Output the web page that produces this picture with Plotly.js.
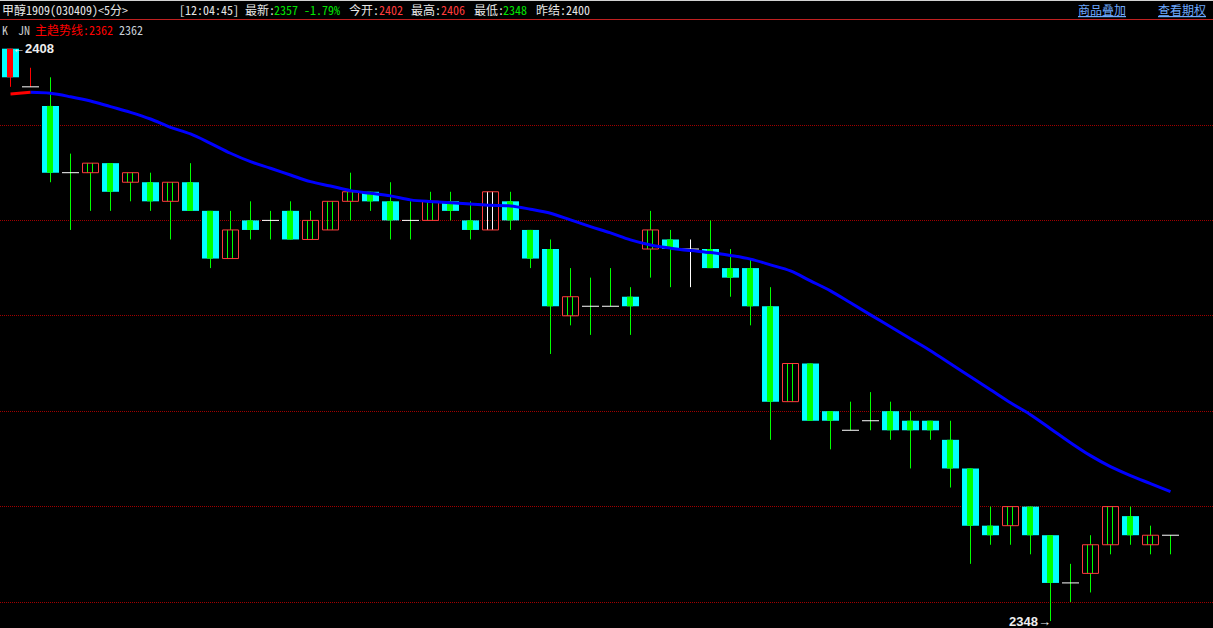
<!DOCTYPE html>
<html><head><meta charset="utf-8">
<script src="https://cdn.plot.ly/plotly-3.0.1.min.js"></script>
<style>html,body{margin:0;padding:0;background:#000;overflow:hidden}#chart{width:1213px;height:628px}</style>
</head><body><div id="chart"></div>
<script>
// ---- data (5-minute bars, 甲醇1909) ----
const openP  = [2408,2404,2402,2395,2395,2396,2394,2394,2392,2394,2391,2386,2390,2390,2391,2388,2389,2392,2393,2392,2390,2390,2392,2390,2389,2392,2389,2387,2380,2381,2381,2382,2387,2388,2387,2387,2385,2385,2381,2371,2375,2370,2368,2369,2370,2369,2369,2367,2364,2358,2358,2360,2357,2352,2353,2356,2359,2356,2357];
const highP  = [2408,2406,2405,2397,2396,2396,2395,2395,2394,2396,2391,2391,2392,2391,2392,2391,2392,2395,2393,2394,2392,2393,2393,2392,2393,2393,2389,2388,2385,2384,2385,2383,2391,2389,2388,2390,2387,2386,2383,2375,2375,2370,2371,2372,2371,2370,2369,2369,2364,2360,2360,2360,2357,2354,2357,2360,2360,2358,2357];
const lowP   = [2404,2404,2394,2389,2391,2391,2392,2391,2388,2391,2385,2386,2388,2388,2388,2388,2389,2390,2391,2388,2388,2390,2390,2388,2389,2389,2385,2376,2379,2378,2381,2378,2384,2383,2383,2385,2382,2379,2367,2371,2369,2366,2368,2368,2367,2364,2367,2362,2354,2356,2356,2355,2348,2350,2351,2355,2356,2355,2355];
const closeP = [2405,2404,2395,2395,2396,2393,2395,2392,2394,2391,2386,2389,2389,2390,2388,2390,2392,2393,2392,2390,2390,2392,2391,2389,2393,2390,2386,2381,2382,2381,2381,2381,2389,2387,2387,2385,2384,2381,2371,2375,2369,2369,2368,2369,2368,2368,2368,2364,2358,2357,2360,2357,2352,2352,2356,2360,2357,2357,2357];
const trendLine = [2403.25,2403.42,2403.32,2402.96,2402.51,2401.92,2401.33,2400.63,2399.76,2399.06,2398.08,2397.04,2396.16,2395.47,2394.76,2394.06,2393.61,2393.12,2392.85,2392.57,2392.15,2391.97,2391.86,2391.73,2391.59,2391.52,2391.17,2390.75,2390.05,2389.35,2388.69,2387.96,2387.43,2387.09,2386.84,2386.63,2386.32,2385.94,2385.34,2384.71,2383.66,2382.62,2381.36,2380.10,2378.85,2377.59,2376.34,2374.97,2373.61,2372.25,2370.89,2369.63,2368.17,2366.70,2365.34,2364.19,2363.25,2362.41,2361.57];
const gridLevels = [2350,2360,2370,2380,2390,2400];

const contractName = '甲醇1909(030409)<5分>';
const quoteTime = '12:04:45';
const lastPrice = 2357, changePct = '-1.79%', openToday = 2402, highToday = 2406, lowToday = 2348, prevSettle = 2400;
const trendName = '主趋势线', trendValue = 2362;

// ---- drawing ----
const W = 1213, H = 628;
const n = openP.length;
const GREEN = '#00ff00', CYAN = '#00ffff', BOXRED = '#ff3c3c', WHITE = '#ffffff';
const accent = {0:'#ff0000', 1:'#ff0000', 24:'#ffffff', 34:'#ffffff'};
const colorOf = i => accent[i] || GREEN;

const wickGroups = {};
function seg(group, c, xs, ys){ const g = (group[c] = group[c] || {x:[], y:[]}); g.x.push(...xs, null); g.y.push(...ys, null); }
const innerGroups = {};
const bearX = [], bearBase = [], bearLen = [], bearStripeCol = [];
const boxX = [], boxY = [];
const dojiX = [], dojiY = [];
for (let i = 0; i < n; i++) {
  const o = openP[i], c = closeP[i], h = highP[i], l = lowP[i];
  const top = Math.max(o, c), bot = Math.min(o, c);
  const col = colorOf(i);
  if (c < o) {
    seg(wickGroups, col, [i, i], [h, l]);
    bearX.push(i); bearBase.push(c); bearLen.push(o - c); bearStripeCol.push(col);
  } else if (c > o) {
    if (h > top) seg(wickGroups, col, [i, i], [h, top]);
    if (l < bot) seg(wickGroups, col, [i, i], [bot, l]);
    seg(innerGroups, col, [i - 0.15, i - 0.15], [bot, top]);
    seg(innerGroups, col, [i + 0.10, i + 0.10], [bot, top]);
    boxX.push(i - 0.4, i + 0.4, i + 0.4, i - 0.4, i - 0.4, null);
    boxY.push(bot, bot, top, top, bot, null);
  } else {
    if (h > l) seg(wickGroups, col, [i, i], [h, l]);
    dojiX.push(i - 0.425, i + 0.425, null); dojiY.push(o, o, null);
  }
}

const traces = [];
for (const c in wickGroups) traces.push({type:'scatter', mode:'lines', x:wickGroups[c].x, y:wickGroups[c].y, line:{color:c, width:1}, hoverinfo:'skip'});
traces.push({type:'bar', x:bearX, base:bearBase, y:bearLen, width:0.85, offset:-0.425, marker:{color:CYAN, line:{width:0}}, hoverinfo:'skip'});
traces.push({type:'bar', x:bearX, base:bearBase, y:bearLen, width:0.3, offset:-0.175, marker:{color:bearStripeCol, line:{width:0}}, hoverinfo:'skip'});
for (const c in innerGroups) traces.push({type:'scatter', mode:'lines', x:innerGroups[c].x, y:innerGroups[c].y, line:{color:c, width:1}, hoverinfo:'skip'});
traces.push({type:'scatter', mode:'lines', x:boxX, y:boxY, line:{color:BOXRED, width:1}, hoverinfo:'skip'});
traces.push({type:'scatter', mode:'lines', x:dojiX, y:dojiY, line:{color:WHITE, width:1}, hoverinfo:'skip'});
const idx = trendLine.map((_, i) => i);
traces.push({type:'scatter', mode:'lines', x:idx.slice(1), y:trendLine.slice(1), line:{color:'#0000ff', width:3, shape:'spline'}, hoverinfo:'skip'});
traces.push({type:'scatter', mode:'lines', x:idx.slice(0,2), y:trendLine.slice(0,2), line:{color:'#ff0000', width:3}, hoverinfo:'skip'});

// price scale: 9.54 px per unit, 2400 at pixel row 125
const pxPerUnit = 9.54;
const yTop = 2400 + 125 / pxPerUnit, yBot = 2400 - (H - 125) / pxPerUnit;
const x0 = -10.5 / 20;

const FONT = '"Noto Sans Mono CJK SC", "Noto Sans CJK SC", sans-serif';
const TW = '#e6e6e6', TG = '#00e600', TR = '#ff3c3c', TB = '#6eaaff';
function hdr(text, px, py, color, extra) {
  return Object.assign({xref:'paper', yref:'paper', x:px / W, y:1 - py / H, xanchor:'left', yanchor:'middle',
    text:text, showarrow:false, borderpad:0, borderwidth:0, font:{family:FONT, size:12, color:color}}, extra || {});
}
const annotations = [
  hdr(contractName, 2, 10, TW),
  hdr('[' + quoteTime + '] 最新:', 179, 10, TW),
  hdr(lastPrice + ' ' + changePct, 274, 10, TG),
  hdr('今开:', 349, 10, TW), hdr(String(openToday), 379, 10, TR),
  hdr('最高:', 411, 10, TW), hdr(String(highToday), 441, 10, TR),
  hdr('最低:', 474, 10, TW), hdr(String(lowToday), 503, 10, TG),
  hdr('昨结:' + prevSettle, 536, 10, TW),
  hdr('<u>商品叠加</u>', 1078, 10, TB),
  hdr('<u>查看期权</u>', 1158, 10, TB),
  hdr('K', 2, 30, '#c8c8c8'),
  hdr('JN', 18, 30, '#c8c8c8'),
  hdr(trendName + ':' + trendValue, 35, 30, '#ff0000'),
  hdr(String(trendValue), 119, 30, '#c8d0d8')
];
// extreme labels
let hi = 0, lo = 0;
for (let i = 1; i < n; i++) { if (highP[i] > highP[hi]) hi = i; if (lowP[i] < lowP[lo]) lo = i; }
annotations.push({x:hi, y:highP[hi], xref:'x', yref:'y', xanchor:'left', yanchor:'middle', xshift:1, showarrow:false,
  text:'←' + highP[hi], borderpad:0, borderwidth:0, font:{family:'"Liberation Sans", Arial, sans-serif', size:13, color:'#eeeeee', weight:700}});
annotations.push({x:lo, y:lowP[lo], xref:'x', yref:'y', xanchor:'right', yanchor:'middle', xshift:0, showarrow:false,
  text:lowP[lo] + '→', borderpad:0, borderwidth:0, font:{family:'"Liberation Sans", Arial, sans-serif', size:13, color:'#eeeeee', weight:700}});

const shapes = [
  {type:'line', xref:'paper', yref:'paper', x0:0, x1:1, y0:1 - 0.5 / H, y1:1 - 0.5 / H, line:{color:'#d2d2d2', width:1}},
  {type:'line', xref:'paper', yref:'paper', x0:0, x1:1, y0:1 - 19.5 / H, y1:1 - 19.5 / H, line:{color:'#c02020', width:1}}
];

const layout = {
  width:W, height:H, margin:{l:0, r:0, t:0, b:0, pad:0},
  paper_bgcolor:'#000', plot_bgcolor:'#000', showlegend:false, barmode:'overlay', hovermode:false,
  xaxis:{range:[x0, x0 + W / 20], showgrid:false, zeroline:false, showticklabels:false, showline:false, ticks:'', fixedrange:true},
  yaxis:{range:[yBot, yTop], tickvals:gridLevels, showticklabels:false, ticks:'', gridcolor:'#a00000', griddash:'1px,1px', gridwidth:1, zeroline:false, showline:false, fixedrange:true},
  annotations:annotations, shapes:shapes
};
Plotly.newPlot('chart', traces, layout, {staticPlot:true, displayModeBar:false});
</script></body></html>
